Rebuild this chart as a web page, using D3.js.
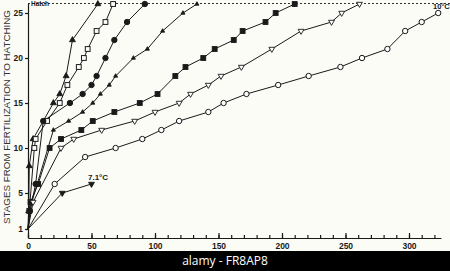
<!DOCTYPE html>
<html><head><meta charset="utf-8">
<script src="https://cdn.jsdelivr.net/npm/d3@7"></script>
<style>
html,body{margin:0;padding:0;background:#fcfcf7;}
svg{display:block;}
</style></head>
<body>
<script>
// ---- data (days after fertilization, developmental stage) ----
const daysA = [0, 0.5, 1, 4, 20, 25, 30, 35, 55];
const stagesA = [1, 3, 8, 11, 15, 16, 18, 22, 26];

const daysB = [0, 1, 5, 6, 15, 25, 31, 40, 44, 47, 54, 61, 67];
const stagesB = [1, 3, 10, 11, 13, 15, 17, 19, 20, 21, 23, 24, 26];

const daysC = [0, 1.5, 6, 12, 33, 43, 50, 54, 61, 68, 78, 92];
const stagesC = [1, 3, 6, 13, 15, 16, 17, 18, 20, 22, 24, 26];

const daysD = [0, 3, 20, 32, 43, 51, 57, 64, 69, 83, 94, 106, 122, 133];
const stagesD = [1, 4, 12, 13, 14, 15, 16, 17, 18, 20, 21, 23, 25, 26];

const daysE = [0, 2, 8, 17, 26, 42, 51, 68, 88, 102, 116, 124, 138, 147, 162, 169, 187, 195, 210];
const stagesE = [1, 4, 6, 10, 11, 12, 13, 14, 15, 16, 18, 19, 20, 21, 22, 23, 24, 25, 26];

const daysF = [0, 4, 26, 36, 58, 84, 100, 119, 128, 142, 152, 168, 192, 215, 239, 247, 261];
const stagesF = [1, 4, 10, 11, 12, 13, 14, 15, 16, 17, 18, 19, 21, 23, 24, 25, 26];

const daysG = [0, 21, 45, 69, 90, 105, 119, 142, 154, 172, 197, 221, 246, 263, 283, 297, 310, 323];
const stagesG = [1, 6, 9, 10, 11, 12, 13, 14, 15, 16, 17, 18, 19, 20, 21, 23, 24, 25];

const daysH = [0, 27, 50];
const stagesH = [1, 5, 6];

const xTicks = [0, 50, 100, 150, 200, 250, 300];
const yTicks = [1, 5, 10, 15, 20, 25];
const hatchStage = 26;
const yTitle = "STAGES FROM FERTILIZATION TO HATCHING";

const series = [
  {d: daysA, s: stagesA, m: "triUpFilled"},
  {d: daysB, s: stagesB, m: "squareOpen"},
  {d: daysC, s: stagesC, m: "circleFilled"},
  {d: daysD, s: stagesD, m: "triSmall"},
  {d: daysE, s: stagesE, m: "squareFilled"},
  {d: daysF, s: stagesF, m: "triDownOpen"},
  {d: daysG, s: stagesG, m: "circleOpen"},
  {d: daysH, s: stagesH, m: "triDownFilled"}
];

const W = 450, H = 271;
const svg = d3.select("body").append("svg").attr("width", W).attr("height", H);
svg.append("rect").attr("width", W).attr("height", H).attr("fill", "#fcfcf7");

const x = d3.scaleLinear().domain([0, 325]).range([28, 440.75]);
const y = d3.scaleLinear().domain([0, 26]).range([238, 4]);

const ink = "#1a1a1a";
const font = "Liberation Sans, Arial, sans-serif";

// hatch dashed line
svg.append("line").attr("x1", x(0)).attr("x2", W).attr("y1", y(hatchStage) - 0.5).attr("y2", y(hatchStage) - 0.5)
  .attr("stroke", "#333").attr("stroke-width", 1).attr("stroke-dasharray", "2,2");
svg.append("text").attr("x", 31).attr("y", 6).attr("font-family", font)
  .attr("font-size", 6.5).attr("font-weight", "bold").attr("fill", ink).text("Hatch");

// axes
const xMinor = d3.range(0, 330, 10);
const gxm = svg.append("g").attr("transform", `translate(0,${y(0)})`)
  .call(d3.axisBottom(x).tickValues(xMinor).tickSize(-3).tickSizeOuter(0).tickFormat(""));
const gx = svg.append("g").attr("transform", `translate(0,${y(0)})`)
  .call(d3.axisBottom(x).tickValues(xTicks).tickSize(-5).tickSizeOuter(0).tickPadding(5));
const gy = svg.append("g").attr("transform", `translate(${x(0)},0)`)
  .call(d3.axisLeft(y).tickValues(yTicks).tickSize(3).tickSizeOuter(0).tickPadding(2));
[gxm, gx, gy].forEach(g => {
  g.selectAll("path,line").attr("stroke", ink).attr("stroke-width", 1.2);
  g.selectAll("text").attr("font-family", font)
    .attr("font-size", 8.5).attr("font-weight", "bold").attr("fill", ink);
});
gy.select(".domain").attr("d", `M0.5,${y(0)}V${y(26)}`);

// y title
svg.append("text").attr("transform", `translate(10,${117}) rotate(-90)`)
  .attr("text-anchor", "middle").attr("font-family", font)
  .attr("font-size", 9.8).attr("fill", "#333").text(yTitle);

// lines
const line = d3.line().x(p => x(p[0])).y(p => y(p[1]));
series.forEach(sr => {
  const pts = sr.d.map((d, i) => [d, sr.s[i]]);
  svg.append("path").attr("d", line(pts)).attr("fill", "none").attr("stroke", ink).attr("stroke-width", 1);
});

// markers
function drawMarker(g, m, px, py) {
  if (m === "circleFilled" || m === "circleOpen") {
    g.append("circle").attr("cx", px).attr("cy", py).attr("r", 2.7)
      .attr("fill", m === "circleFilled" ? ink : "#fff").attr("stroke", ink).attr("stroke-width", 1);
  } else if (m === "squareFilled" || m === "squareOpen") {
    g.append("rect").attr("x", px - 2.4).attr("y", py - 2.4).attr("width", 4.8).attr("height", 4.8)
      .attr("fill", m === "squareFilled" ? ink : "#fff").attr("stroke", ink).attr("stroke-width", 1);
  } else {
    const size = m === "triSmall" ? 7 : 15;
    const rot = (m === "triDownOpen" || m === "triDownFilled") ? 180 : 0;
    const filled = m !== "triDownOpen";
    g.append("path").attr("d", d3.symbol().type(d3.symbolTriangle).size(size)())
      .attr("transform", `translate(${px},${py}) rotate(${rot})`)
      .attr("fill", filled ? ink : "#fff").attr("stroke", ink).attr("stroke-width", 0.9);
  }
}
series.forEach(sr => {
  const g = svg.append("g");
  sr.d.forEach((d, i) => { if (i > 0) drawMarker(g, sr.m, x(d), y(sr.s[i])); });
});

// series labels
svg.append("text").attr("x", 88).attr("y", 180).attr("font-family", font)
  .attr("font-size", 8).attr("font-weight", "bold").attr("fill", ink).text("7.1°C");
svg.append("text").attr("x", 433).attr("y", 9).attr("font-family", font)
  .attr("font-size", 7.5).attr("font-weight", "bold").attr("fill", ink).text("10°C");

// bottom banner
svg.append("rect").attr("x", 0).attr("y", 251).attr("width", W).attr("height", 20).attr("fill", "#000");
svg.append("text").attr("x", 225).attr("y", 265).attr("text-anchor", "middle")
  .attr("font-family", "Open Sans, sans-serif").attr("font-size", 12).attr("fill", "#fff").text("alamy - FR8AP8");
</script>
</body></html>
